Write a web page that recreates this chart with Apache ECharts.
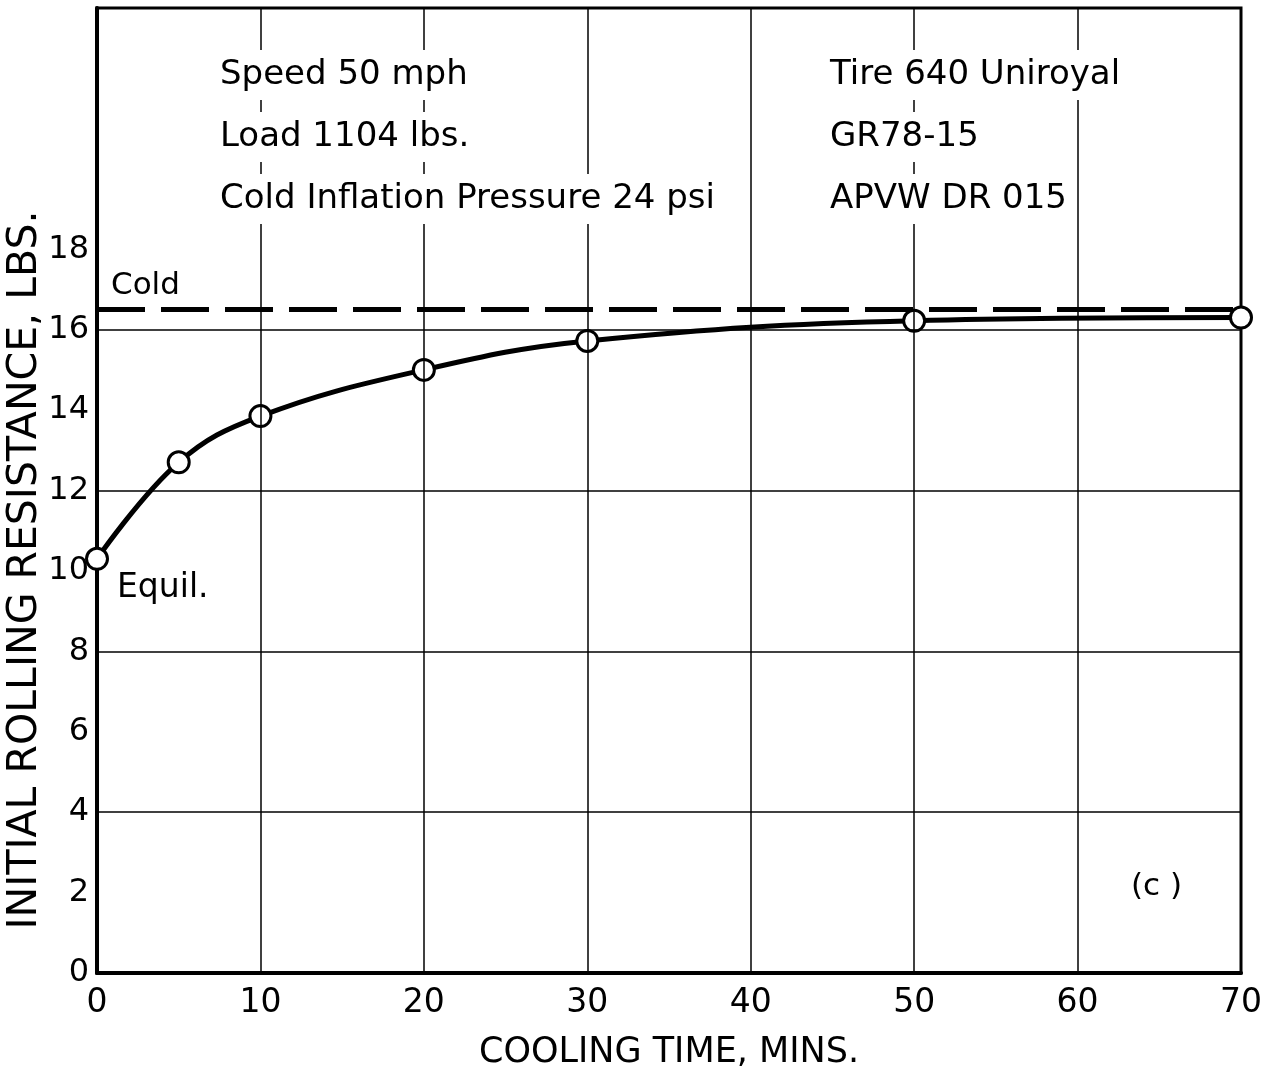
<!DOCTYPE html>
<html>
<head>
<meta charset="utf-8">
<script src="https://cdn.jsdelivr.net/npm/echarts@6/dist/echarts.min.js"></script>
<style>html,body{margin:0;padding:0;background:#fff}#c{width:1279px;height:1076px}</style>
</head>
<body>
<div id="c"></div>
<script>
// ---- data ----
const coolingTime = [0, 5, 10, 20, 30, 50, 70];
const resistance = [10.3, 12.7, 13.85, 15.0, 15.72, 16.22, 16.3];
const coldValue = 16.5;
const coldRange = [0, 70];
const hGrid = [4, 8, 12, 16];
const vGrid = [10, 20, 30, 40, 50, 60];
const yTickMaxShown = 18;
const infoLeft = ['Speed 50 mph', 'Load 1104 lbs.', 'Cold Inflation Pressure 24 psi'];
const infoRight = ['Tire 640 Uniroyal', 'GR78-15', 'APVW DR 015'];
const yAxisTitle = 'INITIAL ROLLING RESISTANCE, LBS.';
const xAxisTitle = 'COOLING TIME, MINS.';

const FONT = 'DejaVu Sans';
const chart = echarts.init(document.getElementById('c'), null, {renderer: 'canvas'});

const textLine = (txt, x, y, size) => ({
  type: 'text', left: x, top: y, z: 50,
  style: {text: txt, font: size + 'px "' + FONT + '"', fill: '#000',
          backgroundColor: '#fff', padding: [8, 6]}
});

const graphics = [];
infoLeft.forEach((t, i) => graphics.push(textLine(t, 214, 50 + i * 62, 34)));
infoRight.forEach((t, i) => graphics.push(textLine(t, 824, 50 + i * 62, 34)));
graphics.push({type: 'text', left: 111, top: 270, z: 50,
  style: {text: 'Cold', font: '31px "' + FONT + '"', fill: '#000'}});
graphics.push({type: 'text', left: 117, top: 572, z: 50,
  style: {text: 'Equil.', font: '33px "' + FONT + '"', fill: '#000'}});
graphics.push({type: 'text', left: 1131, top: 871, z: 50,
  style: {text: '(c )', font: '31px "' + FONT + '"', fill: '#000'}});
graphics.push({type: 'text', x: 25, y: 570, rotation: Math.PI / 2, z: 50,
  style: {text: yAxisTitle, font: '41px "' + FONT + '"', fill: '#000',
          align: 'center', verticalAlign: 'middle'}});

chart.setOption({
  animation: false,
  backgroundColor: '#fff',
  grid: {left: 97, right: 38, top: 8, bottom: 103, show: true, containLabel: false,
         outerBoundsMode: 'none',
         borderColor: '#000', borderWidth: 3, backgroundColor: 'transparent'},
  xAxis: {
    type: 'value', min: 0, max: 70, interval: 10,
    name: xAxisTitle, nameLocation: 'middle', nameGap: 62,
    nameTextStyle: {fontFamily: FONT, fontSize: 35, color: '#000'},
    axisLine: {show: true, onZero: false, lineStyle: {color: '#000', width: 4}},
    axisTick: {show: false},
    splitLine: {show: false},
    axisLabel: {fontFamily: FONT, fontSize: 33, color: '#000', margin: 14}
  },
  yAxis: {
    type: 'value', min: 0, max: 24, interval: 2,
    axisLine: {show: true, onZero: false, lineStyle: {color: '#000', width: 4}},
    axisTick: {show: false},
    splitLine: {show: false},
    axisLabel: {fontFamily: FONT, fontSize: 32, color: '#000', margin: 8,
      formatter: v => (v <= yTickMaxShown ? String(v) : '')}
  },
  graphic: graphics,
  series: [
    {
      type: 'line', name: 'grid', data: [], silent: true, z: 1,
      markLine: {
        silent: true, symbol: 'none', animation: false,
        label: {show: false},
        lineStyle: {color: '#000', width: 1.5, type: 'solid'},
        data: hGrid.map(v => ({yAxis: v})).concat(vGrid.map(v => ({xAxis: v})))
      }
    },
    {
      type: 'line', name: 'Cold', z: 3,
      data: coldRange.map(x => [x, coldValue]),
      symbol: 'none',
      lineStyle: {color: '#000', width: 5, type: [48, 16]}
    },
    {
      type: 'line', name: 'Initial', z: 4,
      data: coolingTime.map((x, i) => [x, resistance[i]]),
      smooth: 0.4,
      symbol: 'circle', symbolSize: 21,
      lineStyle: {color: '#000', width: 5},
      itemStyle: {color: '#fff', borderColor: '#000', borderWidth: 3}
    }
  ]
});
</script>
</body>
</html>
